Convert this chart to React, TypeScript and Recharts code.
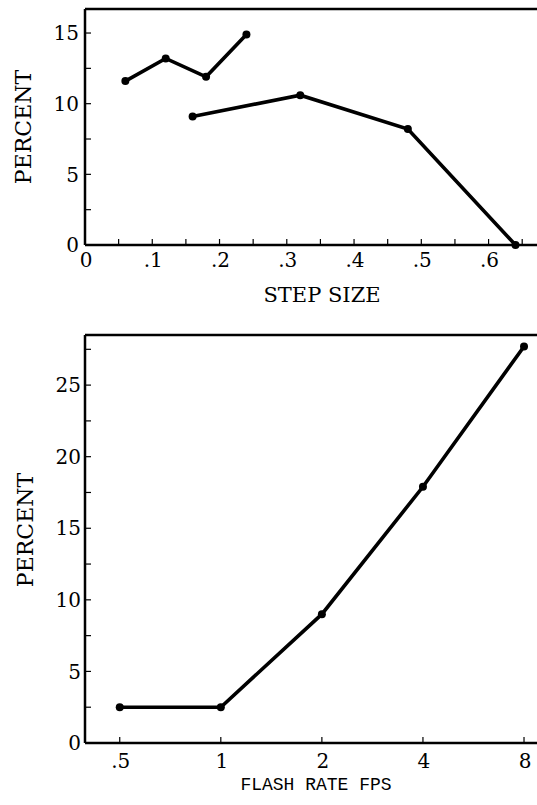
import React from 'react';
import { LineChart, Line, XAxis, YAxis, ReferenceLine, Label } from 'recharts';

// ---- Top panel data (step size) ----
const stepSizeSmall = [0.06, 0.12, 0.18, 0.24];
const percentSmall = [11.6, 13.2, 11.9, 14.9];
const stepSizeLarge = [0.16, 0.32, 0.48, 0.64];
const percentLarge = [9.1, 10.6, 8.2, 0];

const stepTicks = [0, 0.05, 0.1, 0.15, 0.2, 0.25, 0.3, 0.35, 0.4, 0.45, 0.5, 0.55, 0.6, 0.65];
const stepLabelValues = [0, 0.1, 0.2, 0.3, 0.4, 0.5, 0.6];
const stepLabels = ['0', '.1', '.2', '.3', '.4', '.5', '.6'];
const topPercentTicks = [0, 2.5, 5, 7.5, 10, 12.5, 15];
const topPercentLabelValues = [0, 5, 10, 15];
const topPercentLabels = ['0', '5', '10', '15'];

// ---- Bottom panel data (flash rate) ----
const flashRates = [0.5, 1, 2, 4, 8];
const flashPercent = [2.5, 2.5, 9.0, 17.9, 27.7];
const flashTicks = [0.5, 1, 2, 4, 8];
const flashLabels = ['.5', '1', '2', '4', '8'];
const bottomPercentTicks = [0, 2.5, 5, 7.5, 10, 12.5, 15, 17.5, 20, 22.5, 25, 27.5];
const bottomPercentLabelValues = [0, 5, 10, 15, 20, 25];
const bottomPercentLabels = ['0', '5', '10', '15', '20', '25'];

const seriesSmall = stepSizeSmall.map((x, i) => ({ x, y: percentSmall[i] }));
const seriesLarge = stepSizeLarge.map((x, i) => ({ x, y: percentLarge[i] }));
const seriesFlash = flashRates.map((x, i) => ({ x, y: flashPercent[i] }));

const SERIF = '"DejaVu Serif", "Liberation Serif", serif';
const MONO = '"Liberation Mono", "DejaVu Sans Mono", monospace';

const findLabel = (values: number[], labels: string[], v: number) => {
  const i = values.findIndex((t) => Math.abs(t - v) < 1e-9);
  return i >= 0 ? labels[i] : null;
};

const makeXTick = (values: number[], labels: string[], dy: number, fontSize: number) => (props: any) => {
  const { x, y, payload } = props;
  const label = findLabel(values, labels, payload.value);
  return (
    <g>
      <line x1={x} x2={x} y1={y} y2={y - 6} stroke="#000" strokeWidth={1.2} />
      {label !== null && (
        <text x={x + 1} y={y + dy} textAnchor="middle" fontFamily={SERIF} fontSize={fontSize} fill="#000">
          {label}
        </text>
      )}
    </g>
  );
};

const makeYTick = (values: number[], labels: string[], fontSize: number, gap: number) => (props: any) => {
  const { x, y, payload } = props;
  const label = findLabel(values, labels, payload.value);
  return (
    <g>
      <line x1={x} x2={x + 6} y1={y} y2={y} stroke="#000" strokeWidth={1.2} />
      {label !== null && (
        <text x={x - gap} y={y} dy="0.36em" textAnchor="end" fontFamily={SERIF} fontSize={fontSize} fill="#000">
          {label}
        </text>
      )}
    </g>
  );
};

const verticalTitle = (cx: number, cy: number, text: string) => () => (
  <text
    transform={`translate(${cx},${cy}) rotate(-90)`}
    textAnchor="middle"
    dy="0.36em"
    fontFamily={SERIF}
    fontSize={22}
    fill="#000"
  >
    {text}
  </text>
);

const horizontalTitle = (cx: number, baseline: number, text: string, family: string, size: number) => () => (
  <text x={cx} y={baseline} textAnchor="middle" fontFamily={family} fontSize={size} fill="#000">
    {text}
  </text>
);

const axisLineStyle = { stroke: '#000', strokeWidth: 2.5 };
const dotStyle = { r: 4, fill: '#000', stroke: '#000', strokeWidth: 0 };

export default function App() {
  return (
    <div style={{ position: 'absolute', left: 0, top: 0, width: 537, height: 805, background: '#fff' }}>
      <div style={{ position: 'absolute', left: 0, top: 0 }}>
        <LineChart width={537} height={310} margin={{ top: 9, right: 0, bottom: 0, left: 0 }}>
          <XAxis
            dataKey="x"
            type="number"
            domain={[0, 0.672]}
            ticks={stepTicks}
            interval={0}
            height={65}
            tickSize={0}
            tickMargin={0}
            axisLine={axisLineStyle}
            tickLine={false}
            tick={makeXTick(stepLabelValues, stepLabels, 22, 20)}
          >
            <Label content={horizontalTitle(322, 302, 'STEP SIZE', SERIF, 21)} />
          </XAxis>
          <YAxis
            type="number"
            domain={[0, 16.7]}
            ticks={topPercentTicks}
            interval={0}
            width={85}
            tickSize={0}
            tickMargin={0}
            axisLine={axisLineStyle}
            tickLine={false}
            tick={makeYTick(topPercentLabelValues, topPercentLabels, 20, 6)}
          >
            <Label content={verticalTitle(23, 127, 'PERCENT')} />
          </YAxis>
          <ReferenceLine y={16.7} stroke="#000" strokeWidth={2.5} />
          <Line
            data={seriesSmall}
            dataKey="y"
            type="linear"
            stroke="#000"
            strokeWidth={3.6}
            dot={dotStyle}
            activeDot={false}
            isAnimationActive={false}
          />
          <Line
            data={seriesLarge}
            dataKey="y"
            type="linear"
            stroke="#000"
            strokeWidth={3.6}
            dot={dotStyle}
            activeDot={false}
            isAnimationActive={false}
          />
        </LineChart>
      </div>
      <div style={{ position: 'absolute', left: 0, top: 310 }}>
        <LineChart width={537} height={495} margin={{ top: 25, right: 0, bottom: 0, left: 0 }}>
          <XAxis
            dataKey="x"
            type="number"
            scale="log"
            domain={[0.394, 8.745]}
            ticks={flashTicks}
            interval={0}
            height={62}
            tickSize={0}
            tickMargin={0}
            axisLine={axisLineStyle}
            tickLine={false}
            tick={makeXTick(flashTicks, flashLabels, 25, 20)}
          >
            <Label content={horizontalTitle(316, 790 - 310, 'FLASH RATE FPS', MONO, 18)} />
          </XAxis>
          <YAxis
            type="number"
            domain={[0, 28.5]}
            ticks={bottomPercentTicks}
            interval={0}
            width={85}
            tickSize={0}
            tickMargin={0}
            axisLine={axisLineStyle}
            tickLine={false}
            tick={makeYTick(bottomPercentLabelValues, bottomPercentLabels, 20, 4)}
          >
            <Label content={verticalTitle(25, 530 - 310, 'PERCENT')} />
          </YAxis>
          <ReferenceLine y={28.5} stroke="#000" strokeWidth={2.5} />
          <Line
            data={seriesFlash}
            dataKey="y"
            type="linear"
            stroke="#000"
            strokeWidth={3.6}
            dot={dotStyle}
            activeDot={false}
            isAnimationActive={false}
          />
        </LineChart>
      </div>
    </div>
  );
}
